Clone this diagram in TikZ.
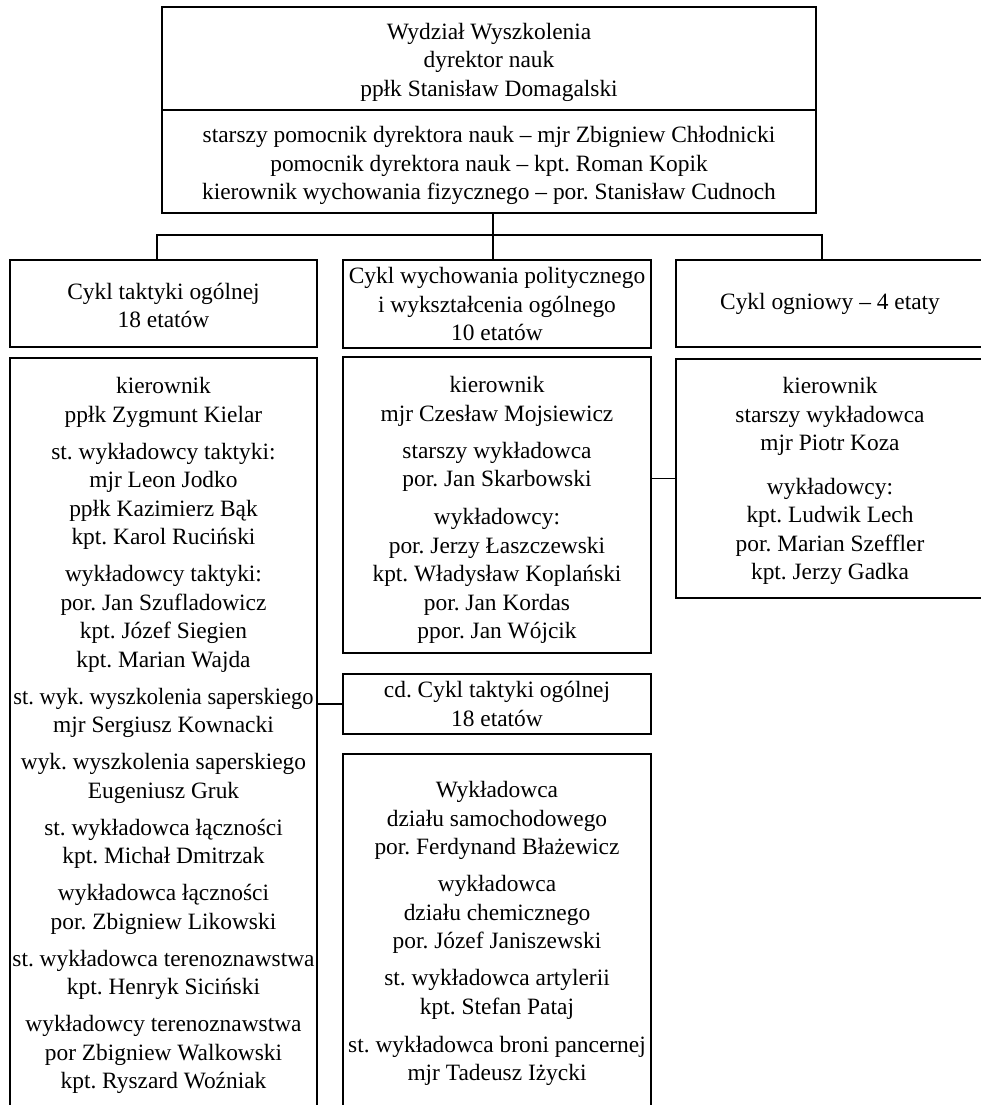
\documentclass[tikz,border=0pt]{standalone}
\usepackage{fontspec}
\usepackage{graphicx}
\setmainfont{Liberation Serif}
\newcommand{\podnies}[1]{\rule{0pt}{#1}}
\begin{document}
\begin{tikzpicture}[x=1pt,y=-1pt,
        pole/.style={draw,rectangle,line width=2.8pt,inner sep=0pt,align=center,
            font=\fontsize{23.4}{28.5}\selectfont\frenchspacing},
        linia/.style={line width=1.2pt}]
        \useasboundingbox (0,0) rectangle (981,1105);
        \clip (0,0) rectangle (981,1105);

        \node[pole,minimum width=654pt,minimum height=103pt] (wydzial) at (489,58.5)
            {\podnies{24pt}Wydział Wyszkolenia\\dyrektor nauk\\ppłk Stanisław Domagalski};
        \node[pole,minimum width=654pt,minimum height=103pt] (pomocnicy) at (489,161.5)
            {\podnies{25pt}starszy pomocnik dyrektora nauk – mjr Zbigniew Chłodnicki\\
             pomocnik dyrektora nauk – kpt. Roman Kopik\\
             kierownik wychowania fizycznego – por. Stanisław Cudnoch};

        \node[pole,minimum width=307pt,minimum height=87pt] (taktyka) at (163.5,303.5)
            {\podnies{20pt}Cykl taktyki ogólnej\\18 etatów};
        \node[pole,minimum width=308pt,minimum height=88pt] (polityka) at (497,304)
            {Cykl wychowania politycznego\\i wykształcenia ogólnego\\10 etatów};
        \node[pole,minimum width=308pt,minimum height=87pt] (ogien) at (830,303.5)
            {Cykl ogniowy – 4 etaty};

        \node[pole,minimum width=307pt,minimum height=755pt] (kadraT) at (163.5,735.5)
            {kierownik\\ppłk Zygmunt Kielar\\[8.5pt]
             st. wykładowcy taktyki:\\mjr Leon Jodko\\ppłk Kazimierz Bąk\\kpt. Karol Ruciński\\[8.5pt]
             wykładowcy taktyki:\\por. Jan Szufladowicz\\kpt. Józef Siegien\\kpt. Marian Wajda\\[8.5pt]
             \scalebox{0.96}[1]{st. wyk. wyszkolenia saperskiego}\\mjr Sergiusz Kownacki\\[8.5pt]
             wyk. wyszkolenia saperskiego\\Eugeniusz Gruk\\[8.5pt]
             st. wykładowca łączności\\kpt. Michał Dmitrzak\\[8.5pt]
             wykładowca łączności\\por. Zbigniew Likowski\\[8.5pt]
             st. wykładowca terenoznawstwa\\kpt. Henryk Siciński\\[8.5pt]
             wykładowcy terenoznawstwa\\por Zbigniew Walkowski\\kpt. Ryszard Woźniak};
        \node[pole,minimum width=308pt,minimum height=296pt] (kadraW) at (497,505)
            {\podnies{26pt}kierownik\\mjr Czesław Mojsiewicz\\[8.5pt]
             starszy wykładowca\\por. Jan Skarbowski\\[9.5pt]
             wykładowcy:\\por. Jerzy Łaszczewski\\kpt. Władysław Koplański\\por. Jan Kordas\\ppor. Jan Wójcik};
        \node[pole,minimum width=308pt,minimum height=239pt] (kadraO) at (830,478.5)
            {\podnies{22pt}kierownik\\starszy wykładowca\\mjr Piotr Koza\\[15pt]
             wykładowcy:\\kpt. Ludwik Lech\\por. Marian Szeffler\\kpt. Jerzy Gadka};
        \node[pole,minimum width=308pt,minimum height=60pt] (taktykaCd) at (497,704)
            {cd. Cykl taktyki ogólnej\\18 etatów};
        \node[pole,minimum width=308pt,minimum height=359pt] (kadraCd) at (497,933.5)
            {Wykładowca\\działu samochodowego\\por. Ferdynand Błażewicz\\[8.5pt]
             wykładowca\\działu chemicznego\\por. Józef Janiszewski\\[8.5pt]
             st. wykładowca artylerii\\kpt. Stefan Pataj\\[9.5pt]
             st. wykładowca broni pancernej\\mjr Tadeusz Iżycki};

        \coordinate (szyna) at (493,235);
        \coordinate (szynaL) at (157,235);
        \coordinate (szynaP) at (822,235);

        \draw[linia] (pomocnicy.south -| szyna) -- (polityka.north -| szyna);
        \draw[linia] (taktyka.north -| szynaL) -- (szynaL) -- (szynaP) -- (ogien.north -| szynaP);
        \draw[linia] (kadraO.west -| kadraW.east) -- (kadraO.west);
        \draw[linia] (taktykaCd.west -| kadraT.east) -- (taktykaCd.west);
    \end{tikzpicture}
\end{document}
